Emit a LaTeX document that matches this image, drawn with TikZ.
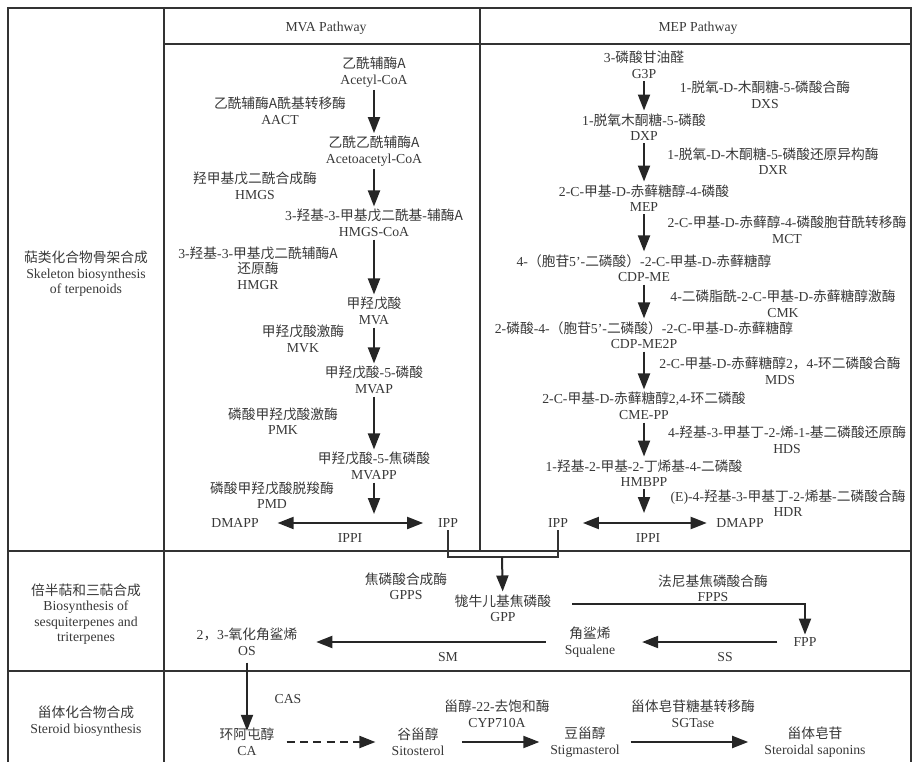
\documentclass[tikz,border=0pt]{standalone}
\usepackage{fontspec}
\setmainfont{Liberation Serif}
\newfontfamily\cjk{Noto Sans CJK SC}
\usetikzlibrary{arrows.meta}
\newcommand{\zh}[1]{{\cjk #1}}

\begin{document}
\begin{tikzpicture}[x=0.75pt,y=0.75pt,yscale=-1,xscale=1,
        txt/.style={align=center,inner sep=2pt,text=black!78,font=\fontsize{10.3}{11.6}\selectfont},
        arr/.style={draw=black!85,line width=1.5pt,-{Triangle[length=12pt,width=9pt]}},
        darr/.style={draw=black!85,line width=1.5pt,{Triangle[length=12pt,width=9pt]}-{Triangle[length=12pt,width=9pt]}},
        grid/.style={draw=black!80,line width=1.3pt}]
        \useasboundingbox (0,0) rectangle (913,762);

        %Table lines
        \draw [grid] (8,762) -- (8,8) -- (911,8) -- (911,762) ;
        \draw [grid] (164,8) -- (164,762) ;
        \draw [grid] (480,8) -- (480,551) ;
        \draw [grid] (164,44) -- (911,44) ;
        \draw [grid] (8,551) -- (911,551) ;
        \draw [grid] (8,671) -- (911,671) ;

        % Header Nodes
        \node [txt] (hdMVA) at (326,28) {MVA Pathway};
        \node [txt] (hdMEP) at (698,28) {MEP Pathway};

        % Row Labels
        \node [txt] (rowA) at (86,274) {\zh{萜类化合物骨架合成}\\Skeleton biosynthesis\\of terpenoids};
        \node [txt] (rowB) at (86,614) {\zh{倍半萜和三萜合成}\\Biosynthesis of\\sesquiterpenes and\\triterpenes};
        \node [txt] (rowC) at (86,721) {\zh{甾体化合物合成}\\Steroid biosynthesis};

        % MVA Text Nodes
        \node [txt] (acetyl) at (374,72) {\zh{乙酰辅酶A}\\Acetyl-CoA};
        \node [txt] (aact) at (280,111) {\zh{乙酰辅酶A酰基转移酶}\\AACT};
        \node [txt] (acac) at (374,151) {\zh{乙酰乙酰辅酶A}\\Acetoacetyl-CoA};
        \node [txt] (hmgs) at (255,186) {\zh{羟甲基戊二酰合成酶}\\HMGS};
        \node [txt] (hmgcoa) at (374,223) {3-\zh{羟基}-3-\zh{甲基戊二酰基}-\zh{辅酶A}\\HMGS-CoA};
        \node [txt] (hmgr) at (258,268) {3-\zh{羟基}-3-\zh{甲基戊二酰辅酶A}\\\zh{还原酶}\\HMGR};
        \node [txt] (mva) at (374,311) {\zh{甲羟戊酸}\\MVA};
        \node [txt] (mvk) at (303,339) {\zh{甲羟戊酸激酶}\\MVK};
        \node [txt] (mvap) at (374,380) {\zh{甲羟戊酸}-5-\zh{磷酸}\\MVAP};
        \node [txt] (pmk) at (283,421) {\zh{磷酸甲羟戊酸激酶}\\PMK};
        \node [txt] (mvapp) at (374,466) {\zh{甲羟戊酸}-5-\zh{焦磷酸}\\MVAPP};
        \node [txt] (pmd) at (272,495) {\zh{磷酸甲羟戊酸脱羧酶}\\PMD};
        \coordinate (mvaend) at (374,514);
        \node [txt] (dmappL) at (235,523) {DMAPP};
        \node [txt] (ippL) at (448,523) {IPP};
        \node [txt] (ippiL) at (350,538) {IPPI};

        % MEP Text Nodes
        \node [txt] (gap) at (644,65) {3-\zh{磷酸甘油醛}\\G3P};
        \node [txt] (dxs) at (765,95) {1-\zh{脱氧}-D-\zh{木酮糖}-5-\zh{磷酸合酶}\\DXS};
        \node [txt] (dxp) at (644,127) {1-\zh{脱氧木酮糖}-5-\zh{磷酸}\\DXP};
        \node [txt] (dxr) at (773,161) {1-\zh{脱氧}-D-\zh{木酮糖}-5-\zh{磷酸还原异构酶}\\DXR};
        \node [txt] (mep) at (644,198) {2-C-\zh{甲基}-D-\zh{赤藓糖醇}-4-\zh{磷酸}\\MEP};
        \node [txt] (mct) at (787,230) {2-C-\zh{甲基}-D-\zh{赤藓醇}-4-\zh{磷酸胞苷酰转移酶}\\MCT};
        \node [txt] (cdpme) at (644,268) {4-\zh{（胞苷}5’-\zh{二磷酸）}-2-C-\zh{甲基}-D-\zh{赤藓糖醇}\\CDP-ME};
        \node [txt] (cmk) at (783,304) {4-\zh{二磷脂酰}-2-C-\zh{甲基}-D-\zh{赤藓糖醇激酶}\\CMK};
        \node [txt] (cdpmep) at (644,335) {2-\zh{磷酸}-4-\zh{（胞苷}5’-\zh{二磷酸）}-2-C-\zh{甲基}-D-\zh{赤藓糖醇}\\CDP-ME2P};
        \node [txt] (mds) at (780,371) {2-C-\zh{甲基}-D-\zh{赤藓糖醇}2\zh{，}4-\zh{环二磷酸合酶}\\MDS};
        \node [txt] (mecpp) at (644,406) {2-C-\zh{甲基}-D-\zh{赤藓糖醇}2,4-\zh{环二磷酸}\\CME-PP};
        \node [txt] (hds) at (787,440) {4-\zh{羟基}-3-\zh{甲基丁}-2-\zh{烯}-1-\zh{基二磷酸还原酶}\\HDS};
        \node [txt] (hmbpp) at (644,473) {1-\zh{羟基}-2-\zh{甲基}-2-\zh{丁烯基}-4-\zh{二磷酸}\\HMBPP};
        \node [txt] (hdr) at (788,503) {(E)-4-\zh{羟基}-3-\zh{甲基丁}-2-\zh{烯基}-\zh{二磷酸合酶}\\HDR};
        \coordinate (mepend) at (644,513);
        \node [txt] (ippR) at (558,523) {IPP};
        \node [txt] (dmappR) at (740,523) {DMAPP};
        \node [txt] (ippiR) at (648,538) {IPPI};

        % Sesquiterpene / triterpene Text Nodes
        \coordinate (ippjoin) at (502,557);
        \node [txt] (gpps) at (406,586) {\zh{焦磷酸合成酶}\\GPPS};
        \node [txt] (gpp) at (503,608) {\zh{牻牛儿基焦磷酸}\\GPP};
        \node [txt] (fpps) at (713,588) {\zh{法尼基焦磷酸合酶}\\FPPS};
        \node [txt] (fpp) at (805,642) {FPP};
        \node [txt] (squalene) at (590,642) {\zh{角鲨烯}\\Squalene};
        \node [txt] (ss) at (725,657) {SS};
        \node [txt] (os) at (247,642) {2\zh{，}3-\zh{氧化角鲨烯}\\OS};
        \node [txt] (sm) at (448,657) {SM};

        % Steroid Text Nodes
        \node [txt] (cas) at (288,699) {CAS};
        \node [txt] (ca) at (247,742) {\zh{环阿屯醇}\\CA};
        \node [txt] (sito) at (418,742) {\zh{谷甾醇}\\Sitosterol};
        \node [txt] (cyp) at (497,714) {\zh{甾醇}-22-\zh{去饱和酶}\\CYP710A};
        \node [txt] (stig) at (585,742) {\zh{豆甾醇}\\Stigmasterol};
        \node [txt] (sgt) at (693,714) {\zh{甾体皂苷糖基转移酶}\\SGTase};
        \node [txt] (sap) at (815,742) {\zh{甾体皂苷}\\Steroidal saponins};

        %MVA Arrows
        \draw [arr] (acetyl) -- (acac) ;
        \draw [arr] (acac) -- (hmgcoa) ;
        \draw [arr] (hmgcoa) -- (mva) ;
        \draw [arr] (mva) -- (mvap) ;
        \draw [arr] (mvap) -- (mvapp) ;
        \draw [arr] (mvapp) -- (mvaend) ;
        \draw [darr,shorten <=12pt,shorten >=9pt] (dmappL) -- (ippL) ;

        %MEP Arrows
        \draw [arr] (gap) -- (dxp) ;
        \draw [arr] (dxp) -- (mep) ;
        \draw [arr] (mep) -- (cdpme) ;
        \draw [arr] (cdpme) -- (cdpmep) ;
        \draw [arr] (cdpmep) -- (mecpp) ;
        \draw [arr] (mecpp) -- (hmbpp) ;
        \draw [arr] (hmbpp) -- (mepend) ;
        \draw [darr,shorten <=9pt,shorten >=5pt] (ippR) -- (dmappR) ;

        %IPP to GPP
        \draw [grid] (ippL) |- (ippjoin) -| (ippR) ;
        \draw [arr] (ippjoin) -- (gpp) ;
        \draw [arr] ([shift={(18,-4)}]gpp.east) -| (fpp) ;
        \draw [arr,shorten <=10pt,shorten >=18pt] (fpp) -- (squalene) ;
        \draw [arr,shorten <=12pt,shorten >=12pt] (squalene) -- (os) ;

        %Steroid Arrows
        \draw [arr,shorten <=3pt,shorten >=-4pt] (os) -- (ca) ;
        \draw [arr,dash pattern=on 6pt off 4pt,shorten <=7pt,shorten >=10pt] (ca) -- (sito) ;
        \draw [arr,shorten <=11pt,shorten >=6pt] (sito) -- (stig) ;
        \draw [arr,shorten <=6pt,shorten >=10pt] (stig) -- (sap) ;

\end{tikzpicture}
\end{document}
